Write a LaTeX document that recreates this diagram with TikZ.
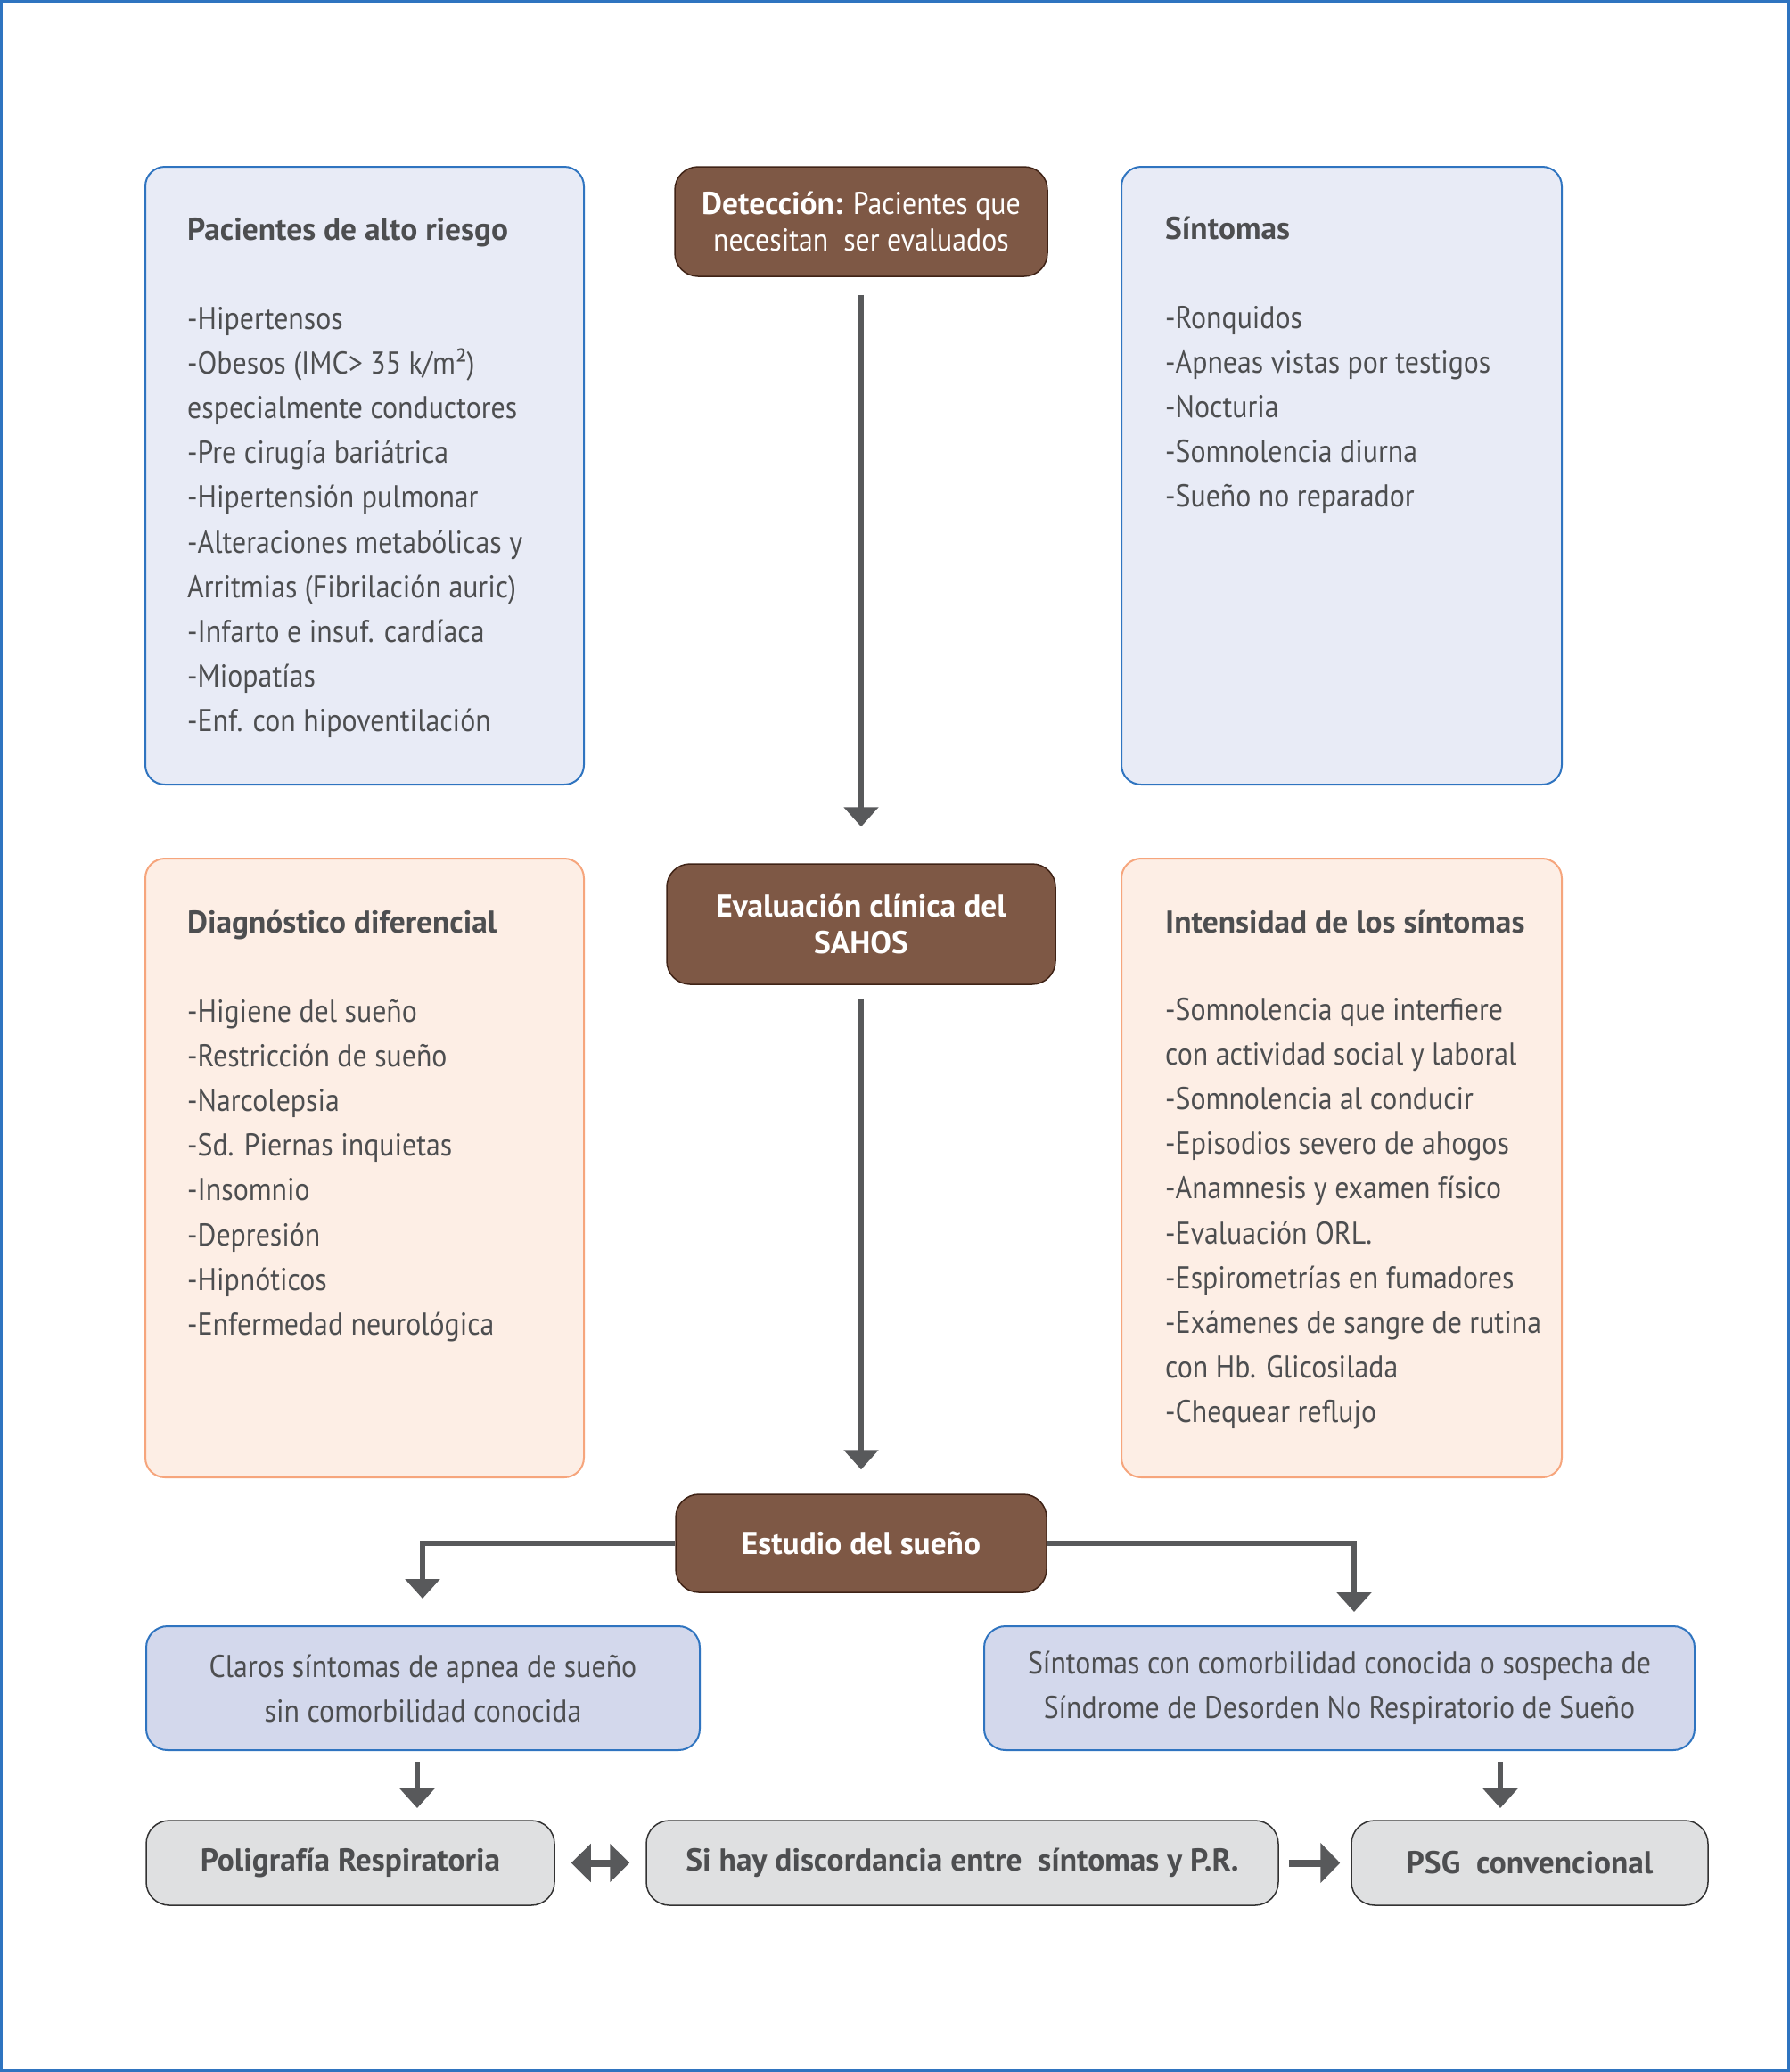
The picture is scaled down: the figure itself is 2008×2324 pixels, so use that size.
\documentclass[tikz,border=0pt]{standalone}
\usepackage{fontspec}
\setmainfont[FakeStretch=0.9, BoldFeatures={FakeStretch=1.0}]{PT Sans}
\usetikzlibrary{arrows.meta}
\definecolor{txt}{HTML}{4D4E50}
\definecolor{bluebd}{HTML}{2F74C0}
\definecolor{bluefill}{HTML}{E8EBF6}
\definecolor{peachbd}{HTML}{F6A57C}
\definecolor{peachfill}{HTML}{FDEEE5}
\definecolor{brownfill}{HTML}{7E5845}
\definecolor{brownbd}{HTML}{3F2316}
\definecolor{lavfill}{HTML}{D3D8EC}
\definecolor{grayfill}{HTML}{DFE0E1}
\definecolor{arr}{HTML}{58595B}
\newcommand{\fs}{\fontsize{35.4}{41}\selectfont}
\tikzset{
  box/.style={inner sep=0pt, line width=2pt, rounded corners=22pt},
  bluebox/.style={box, draw=bluebd, fill=bluefill},
  peachbox/.style={box, draw=peachbd, fill=peachfill},
  brownbox/.style={box, draw=brownbd, fill=brownfill, line width=1.5pt, rounded corners=26pt,
     text=white, font=\fs, align=center},
  lavbox/.style={box, draw=bluebd, fill=lavfill, rounded corners=24pt,
     text=txt, font=\fontsize{35.4}{50}\selectfont, align=center},
  graybox/.style={box, draw=black!80, fill=grayfill, line width=1.5pt, rounded corners=26pt,
     text=txt, font=\fs\bfseries, align=center},
  body/.style={text=txt, font=\fs, inner sep=0pt, anchor=base west},
  head/.style={body, font=\fs\bfseries},
  conn/.style={draw=arr, line width=6pt, -{Triangle[width=38pt,length=22pt]}},
  hconn/.style={draw=arr, line width=8pt},
}
\begin{document}
\begin{tikzpicture}[x=1pt,y=-1pt]
\useasboundingbox (0,0) rectangle (2008,2324);
\fill[white] (0,0) rectangle (2008,2324);
\draw[bluebd, line width=3pt] (1.5,1.5) rectangle (2006.5,2322.5);

% boxes
\node[bluebox, minimum width=492pt, minimum height=693pt] (pa) at (409,533.5) {};
\node[bluebox, minimum width=494pt, minimum height=693pt] (si) at (1505,533.5) {};
\node[peachbox, minimum width=492pt, minimum height=694pt] (dd) at (409,1310) {};
\node[peachbox, minimum width=494pt, minimum height=694pt] (in) at (1505,1310) {};

\node[brownbox, minimum width=418pt, minimum height=123pt] (det) at (966,248.5)
  {{\bfseries Detección:} Pacientes que\\necesitan\ \ ser evaluados};
\node[brownbox, minimum width=436pt, minimum height=135pt, font=\fs\bfseries] (ev) at (966,1036.5)
  {Evaluación clínica del\\SAHOS};
\node[brownbox, minimum width=416pt, minimum height=110pt, font=\fs\bfseries] (es) at (966,1731)
  {Estudio del sueño};

\node[lavbox, minimum width=621pt, minimum height=139pt] (cl) at (474.5,1893.5)
  {Claros síntomas de apnea de sueño\\sin comorbilidad conocida};
\node[lavbox, minimum width=797pt, minimum height=139pt] (sc) at (1502.5,1893.5)
  {Síntomas con comorbilidad conocida o sospecha de\\Síndrome de Desorden No Respiratorio de Sueño};

\node[graybox, minimum width=458pt, minimum height=95pt] (po) at (393,2089.5) {Poligrafía Respiratoria};
\node[graybox, minimum width=709pt, minimum height=95pt] (sh) at (1079.5,2089.5) {Si hay discordancia entre\ \ síntomas y P.R.};
\node[graybox, minimum width=400pt, minimum height=95pt] (ps) at (1716,2089.5) {PSG\ \ convencional};

% texts in list boxes
\node[head] (pah) at (210,269) {Pacientes de alto riesgo};
\foreach \t [count=\i] in {{-Hipertensos},{-Obesos (IMC> 35 k/m²)},{especialmente conductores},
  {-Pre cirugía bariátrica},{-Hipertensión pulmonar},{-Alteraciones metabólicas y},
  {Arritmias (Fibrilación auric)},{-Infarto e insuf. cardíaca},{-Miopatías},{-Enf. con hipoventilación}}
  \node[body] (pa\i) at (210,{369+50.2*(\i-1)}) {\t};

\node[head] (sih) at (1307,268) {Síntomas};
\foreach \t [count=\i] in {{-Ronquidos},{-Apneas vistas por testigos},{-Nocturia},
  {-Somnolencia diurna},{-Sueño no reparador}}
  \node[body] (si\i) at (1307,{368+50.2*(\i-1)}) {\t};

\node[head] (ddh) at (210,1046) {Diagnóstico diferencial};
\foreach \t [count=\i] in {{-Higiene del sueño},{-Restricción de sueño},{-Narcolepsia},
  {-Sd. Piernas inquietas},{-Insomnio},{-Depresión},{-Hipnóticos},{-Enfermedad neurológica}}
  \node[body] (dd\i) at (210,{1146+50.2*(\i-1)}) {\t};

\node[head] (inh) at (1307,1046) {Intensidad de los síntomas};
\foreach \t [count=\i] in {{-Somnolencia que interfiere},{con actividad social y laboral},
  {-Somnolencia al conducir},{-Episodios severo de ahogos},{-Anamnesis y examen físico},
  {-Evaluación ORL.},{-Espirometrías en fumadores},{-Exámenes de sangre de rutina},
  {con Hb. Glicosilada},{-Chequear reflujo}}
  \node[body] (in\i) at (1307,{1144+50.2*(\i-1)}) {\t};

% connectors
\draw[conn, shorten <=20pt, shorten >=41pt] (det.south) -- (ev.north);
\draw[conn, shorten <=15pt, shorten >=27pt] (ev.south) -- (es.north);
\coordinate (lt) at (474,1793);
\coordinate (rt) at (1519,1808);
\draw[conn] (es.west) -| (lt);
\draw[conn] (es.east) -| (rt);
\draw[conn] ([xshift=-6.5pt,yshift=-12pt]cl.south) -- ++(0,52);
\draw[conn] ([xshift=180.5pt,yshift=-12pt]sc.south) -- ++(0,52);
\draw[hconn, {Triangle[width=42pt,length=22pt]}-{Triangle[width=42pt,length=22pt]}, shorten <=18pt, shorten >=18pt] (po.east) -- (sh.west);
\draw[hconn, -{Triangle[width=44pt,length=22pt]}, shorten <=11pt, shorten >=12pt] (sh.east) -- (ps.west);
\end{tikzpicture}
\end{document}
